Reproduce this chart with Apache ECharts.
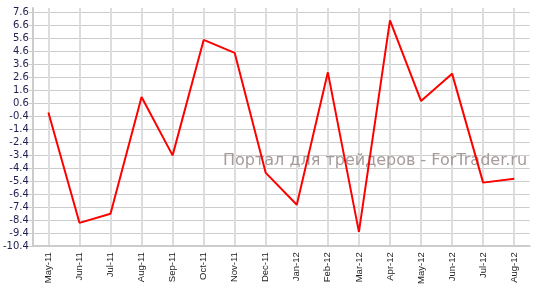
<!DOCTYPE html>
<html><head><meta charset="utf-8">
<style>html,body{margin:0;padding:0;background:#fff}#c{width:539px;height:302px}</style>
<script src="https://cdn.jsdelivr.net/npm/echarts@6/dist/echarts.min.js"></script>
</head><body><div id="c"></div>
<script>
const categories = ['May-11','Jun-11','Jul-11','Aug-11','Sep-11','Oct-11','Nov-11','Dec-11','Jan-12','Feb-12','Mar-12','Apr-12','May-12','Jun-12','Jul-12','Aug-12'];
const values = [-0.1, -8.6, -7.9, 1.1, -3.4, 5.5, 4.5, -4.75, -7.2, 3.0, -9.3, 7.0, 0.8, 2.9, -5.5, -5.2];
const yMin = -10.4, yMax = 7.96, yStep = 1;
const watermark = 'Портал для трейдеров - ForTrader.ru';

const chart = echarts.init(document.getElementById('c'));
chart.setOption({
  animation: false,
  grid: {left: 29.4, right: 9.3, top: 8, bottom: 302 - 246.2, containLabel: false},
  xAxis: {
    type: 'category', data: categories, boundaryGap: true,
    axisLine: {onZero: false, lineStyle: {color: '#cccccc', width: 2}},
    axisTick: {alignWithLabel: true, length: 4, lineStyle: {color: '#cccccc'}},
    splitLine: {show: true, alignWithLabel: true, lineStyle: {color: '#dddddd', width: 2}},
    axisLabel: {rotate: 90, interval: 0, margin: 6, fontFamily: 'Liberation Sans Narrow, Liberation Sans', fontSize: 9.5, color: '#222222'}
  },
  yAxis: {
    type: 'value', min: yMin, max: yMax, interval: yStep,
    axisLine: {show: true, lineStyle: {color: '#cccccc', width: 2}},
    axisTick: {show: true, length: 4, lineStyle: {color: '#cccccc'}},
    splitLine: {show: true, showMaxLine: false, lineStyle: {color: '#cccccc', width: 1}},
    axisLabel: {showMaxLabel: false, margin: 4, fontFamily: 'DejaVu Sans', fontSize: 10, color: '#1e1e50',
      formatter: v => (Math.round(v*10)/10).toFixed(1)}
  },
  graphic: [{type: 'text', left: 223, top: 153, z: 1, silent: true,
    style: {text: watermark, fontFamily: 'DejaVu Sans', fontSize: 16, fill: 'rgba(150,138,138,0.85)'}}],
  series: [{type: 'line', z: 5, data: values, showSymbol: false, lineStyle: {color: '#ff0000', width: 2}, itemStyle: {color: '#ff0000'}}]
});
</script></body></html>
